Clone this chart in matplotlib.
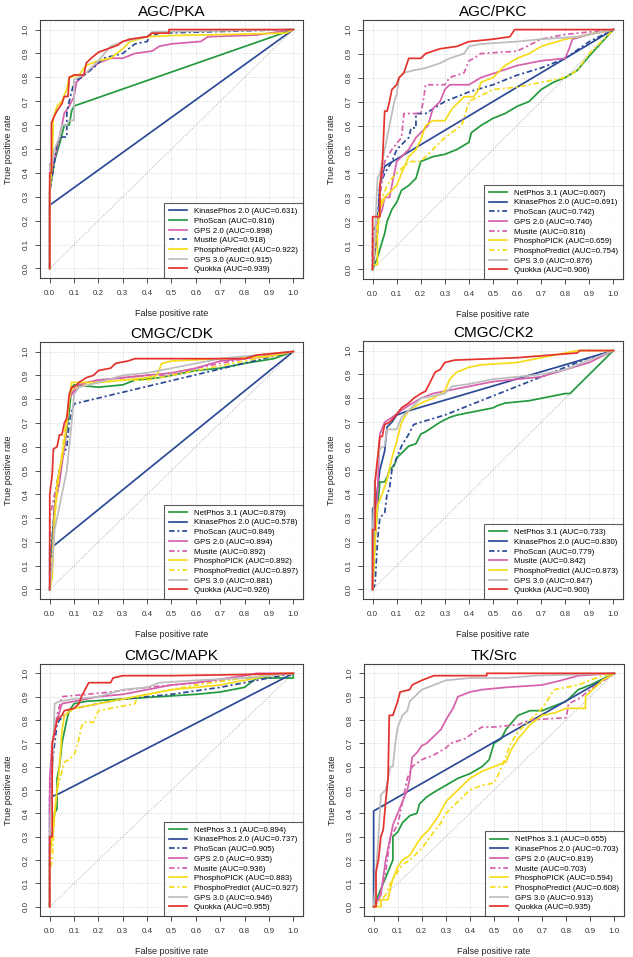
import numpy as np
import matplotlib
matplotlib.use("Agg")
import matplotlib.pyplot as plt

plt.rcParams['font.family'] = ['Liberation Sans', 'DejaVu Sans']

GREEN = "#229a3e"
BLUE = "#2b4a96"
PINK = "#d660aa"
YELLOW = "#f6dc1a"
GRAY = "#bdbdbd"
RED = "#e3322c"
DASH = (0, (3.2, 1.6, 1.2, 1.6))

# ---------------- AGC/PKA ----------------
pka_names = ["KinasePhos 2.0", "PhoScan", "GPS 2.0", "Musite", "PhosphoPredict", "GPS 3.0", "Quokka"]
pka_auc = ["0.631", "0.816", "0.898", "0.918", "0.922", "0.915", "0.939"]
pka_styles = [(BLUE, "-"), (GREEN, "-"), (PINK, "-"), (BLUE, DASH), (YELLOW, "-"), (GRAY, "-"), (RED, "-")]
pka_x = [
    [0, 0, 1],
    [0, 0, 0.02, 0.04, 0.06, 0.08, 0.09, 0.1, 1],
    [0, 0, 0.01, 0.03, 0.04, 0.06, 0.08, 0.1, 0.11, 0.15, 0.2, 0.25, 0.3, 0.35, 0.42, 0.45, 0.5, 0.62, 0.65, 0.85, 1],
    [0, 0, 0.02, 0.03, 0.05, 0.07, 0.07, 0.08, 0.1, 0.13, 0.18, 0.22, 0.3, 0.35, 0.4, 0.41, 0.45, 1],
    [0, 0, 0.01, 0.015, 0.03, 0.05, 0.07, 0.08, 0.12, 0.15, 0.2, 0.25, 0.3, 0.33, 0.4, 0.5, 0.75, 0.97, 1],
    [0, 0, 0.01, 0.02, 0.04, 0.05, 0.07, 0.08, 0.1, 0.1, 0.12, 0.15, 0.2, 0.25, 0.3, 0.4, 0.42, 1],
    [0, 0, 0.007, 0.007, 0.02, 0.03, 0.05, 0.06, 0.075, 0.08, 0.1, 0.14, 0.15, 0.17, 0.2, 0.24, 0.28, 0.3, 0.33, 0.4, 0.42, 0.49, 0.49, 1],
]
pka_y = [
    [0, 0.265, 1],
    [0, 0.33, 0.45, 0.52, 0.6, 0.6, 0.66, 0.68, 1],
    [0, 0.35, 0.42, 0.5, 0.55, 0.65, 0.68, 0.72, 0.78, 0.82, 0.86, 0.88, 0.88, 0.9, 0.91, 0.93, 0.94, 0.95, 0.97, 0.977, 1],
    [0, 0.32, 0.45, 0.52, 0.55, 0.55, 0.65, 0.7, 0.78, 0.8, 0.84, 0.88, 0.9, 0.94, 0.95, 0.97, 0.985, 1],
    [0, 0.32, 0.45, 0.63, 0.68, 0.7, 0.75, 0.8, 0.81, 0.85, 0.87, 0.88, 0.92, 0.95, 0.97, 0.975, 0.98, 0.985, 1],
    [0, 0.44, 0.44, 0.5, 0.55, 0.6, 0.6, 0.62, 0.62, 0.79, 0.8, 0.82, 0.87, 0.93, 0.95, 0.97, 0.99, 1],
    [0, 0.40, 0.40, 0.61, 0.64, 0.66, 0.69, 0.72, 0.72, 0.80, 0.81, 0.81, 0.86, 0.88, 0.905, 0.92, 0.935, 0.95, 0.96, 0.97, 0.985, 0.985, 1, 1],
]

# ---------------- AGC/PKC ----------------
pkc_names = ["NetPhos 3.1", "KinasePhos 2.0", "PhoScan", "GPS 2.0", "Musite", "PhosphoPICK", "PhosphoPredict", "GPS 3.0", "Quokka"]
pkc_auc = ["0.607", "0.691", "0.742", "0.740", "0.816", "0.659", "0.754", "0.876", "0.906"]
pkc_styles = [(GREEN, "-"), (BLUE, "-"), (BLUE, DASH), (PINK, "-"), (PINK, DASH), (YELLOW, "-"), (YELLOW, DASH), (GRAY, "-"), (RED, "-")]
pkc_x = [
    [0, 0.02, 0.05, 0.06, 0.08, 0.1, 0.12, 0.15, 0.18, 0.2, 0.25, 0.3, 0.35, 0.4, 0.41, 0.45, 0.5, 0.55, 0.6, 0.65, 0.7, 0.75, 0.8, 0.85, 0.9, 1],
    [0, 0.02, 0.03, 0.05, 1],
    [0, 0, 0.02, 0.03, 0.05, 0.08, 0.1, 0.15, 0.16, 0.18, 0.18, 0.22, 0.3, 0.4, 0.5, 0.6, 0.7, 0.8, 0.9, 1],
    [0, 0.01, 0.02, 0.04, 0.05, 0.07, 0.08, 0.1, 0.12, 0.15, 0.18, 0.2, 0.23, 0.25, 0.28, 0.3, 0.32, 0.4, 0.45, 0.6, 0.7, 0.8, 0.82, 0.83, 0.9, 1],
    [0, 0, 0.02, 0.03, 0.05, 0.08, 0.12, 0.13, 0.2, 0.21, 0.22, 0.3, 0.32, 0.38, 0.4, 0.42, 0.45, 0.6, 0.7, 0.8, 0.9, 1],
    [0, 0, 0.02, 0.02, 0.03, 0.05, 0.08, 0.1, 0.12, 0.15, 0.18, 0.2, 0.22, 0.25, 0.3, 0.33, 0.38, 0.42, 0.44, 0.45, 0.5, 0.55, 0.6, 0.65, 0.7, 0.8, 0.9, 1],
    [0, 0.01, 0.02, 0.04, 0.06, 0.08, 0.1, 0.13, 0.16, 0.2, 0.25, 0.3, 0.37, 0.4, 0.5, 0.6, 0.7, 0.8, 0.85, 0.9, 1],
    [0, 0.01, 0.02, 0.03, 0.05, 0.06, 0.07, 0.09, 0.1, 0.11, 0.13, 0.17, 0.22, 0.28, 0.32, 0.38, 0.4, 0.45, 0.6, 0.7, 0.85, 1],
    [0, 0, 0.03, 0.03, 0.04, 0.05, 0.06, 0.07, 0.08, 0.1, 0.11, 0.13, 0.14, 0.15, 0.2, 0.22, 0.28, 0.35, 0.4, 0.5, 0.57, 0.59, 1],
]
pkc_y = [
    [0, 0.05, 0.15, 0.2, 0.25, 0.28, 0.33, 0.35, 0.38, 0.45, 0.47, 0.48, 0.5, 0.53, 0.57, 0.6, 0.63, 0.65, 0.68, 0.7, 0.75, 0.78, 0.8, 0.83, 0.89, 1],
    [0, 0.15, 0.35, 0.43, 1],
    [0, 0.15, 0.2, 0.35, 0.4, 0.45, 0.5, 0.55, 0.59, 0.59, 0.65, 0.65, 0.7, 0.74, 0.77, 0.81, 0.84, 0.88, 0.95, 1],
    [0, 0.1, 0.2, 0.25, 0.3, 0.3, 0.35, 0.45, 0.47, 0.5, 0.55, 0.57, 0.6, 0.67, 0.7, 0.75, 0.77, 0.77, 0.8, 0.85, 0.87, 0.88, 0.93, 0.96, 0.98, 1],
    [0, 0.1, 0.15, 0.3, 0.45, 0.5, 0.55, 0.65, 0.65, 0.7, 0.77, 0.77, 0.8, 0.82, 0.87, 0.88, 0.9, 0.91, 0.96, 0.98, 0.99, 1],
    [0, 0.02, 0.02, 0.15, 0.25, 0.3, 0.33, 0.35, 0.4, 0.47, 0.5, 0.54, 0.6, 0.62, 0.62, 0.67, 0.72, 0.72, 0.75, 0.78, 0.8, 0.85, 0.88, 0.9, 0.93, 0.96, 0.98, 1],
    [0, 0.1, 0.2, 0.3, 0.35, 0.38, 0.4, 0.43, 0.45, 0.45, 0.5, 0.55, 0.6, 0.7, 0.75, 0.76, 0.78, 0.8, 0.83, 0.9, 1],
    [0, 0.15, 0.38, 0.4, 0.5, 0.55, 0.6, 0.7, 0.73, 0.8, 0.82, 0.83, 0.84, 0.86, 0.88, 0.9, 0.93, 0.94, 0.95, 0.96, 0.97, 1],
    [0, 0.22, 0.22, 0.35, 0.43, 0.66, 0.66, 0.7, 0.75, 0.77, 0.8, 0.82, 0.85, 0.88, 0.88, 0.9, 0.92, 0.93, 0.95, 0.96, 0.97, 1, 1],
]

# ---------------- CMGC/CDK ----------------
cdk_names = pkc_names
cdk_auc = ["0.879", "0.578", "0.849", "0.894", "0.892", "0.892", "0.897", "0.881", "0.926"]
cdk_styles = pkc_styles
cdk_x = [
    [0, 0.01, 0.02, 0.04, 0.06, 0.08, 0.09, 0.1, 0.2, 0.3, 0.35, 0.45, 0.5, 0.55, 0.6, 0.7, 0.8, 0.92, 1],
    [0, 0, 1],
    [0, 0.01, 0.03, 0.05, 0.07, 0.08, 0.09, 0.1, 1],
    [0, 0.01, 0.02, 0.04, 0.06, 0.08, 0.09, 0.1, 0.12, 0.15, 0.2, 0.3, 0.4, 0.5, 0.6, 0.7, 0.8, 0.9, 1],
    [0, 0, 0.02, 0.04, 0.06, 0.08, 0.1, 0.15, 0.2, 0.3, 0.4, 0.5, 0.6, 0.7, 0.8, 1],
    [0, 0.01, 0.02, 0.03, 0.05, 0.07, 0.08, 0.09, 0.12, 0.2, 0.3, 0.4, 0.44, 0.46, 0.5, 0.7, 0.9, 1],
    [0, 0.01, 0.02, 0.04, 0.06, 0.08, 0.09, 0.15, 0.2, 0.3, 0.4, 0.5, 0.6, 0.7, 0.8, 1],
    [0, 0.01, 0.02, 0.04, 0.06, 0.07, 0.08, 0.09, 0.1, 0.12, 0.2, 0.3, 0.4, 0.5, 0.6, 0.7, 0.8, 1],
    [0, 0, 0.01, 0.015, 0.03, 0.04, 0.05, 0.06, 0.07, 0.08, 0.09, 0.1, 0.12, 0.15, 0.18, 0.2, 0.25, 0.27, 0.32, 0.35, 0.6, 0.8, 0.85, 1],
]
cdk_y = [
    [0, 0.2, 0.35, 0.5, 0.6, 0.75, 0.85, 0.86, 0.85, 0.86, 0.88, 0.89, 0.9, 0.91, 0.92, 0.93, 0.95, 0.97, 1],
    [0, 0.17, 1],
    [0, 0.22, 0.45, 0.55, 0.6, 0.7, 0.75, 0.78, 1],
    [0, 0.1, 0.35, 0.45, 0.6, 0.8, 0.82, 0.83, 0.86, 0.87, 0.88, 0.89, 0.9, 0.91, 0.93, 0.96, 0.97, 0.98, 1],
    [0, 0.3, 0.4, 0.5, 0.6, 0.8, 0.84, 0.87, 0.88, 0.89, 0.9, 0.9, 0.93, 0.95, 0.97, 1],
    [0, 0.05, 0.3, 0.45, 0.55, 0.7, 0.8, 0.87, 0.87, 0.87, 0.88, 0.89, 0.9, 0.95, 0.96, 0.97, 0.98, 1],
    [0, 0.15, 0.3, 0.5, 0.65, 0.8, 0.84, 0.86, 0.87, 0.88, 0.88, 0.9, 0.92, 0.94, 0.96, 1],
    [0, 0.1, 0.25, 0.35, 0.45, 0.5, 0.6, 0.7, 0.82, 0.85, 0.87, 0.9, 0.91, 0.93, 0.95, 0.97, 0.98, 1],
    [0, 0.4, 0.48, 0.59, 0.6, 0.65, 0.65, 0.7, 0.72, 0.82, 0.85, 0.85, 0.87, 0.89, 0.9, 0.92, 0.93, 0.95, 0.96, 0.97, 0.97, 0.97, 0.985, 1],
]

# ---------------- CMGC/CK2 ----------------
ck2_names = ["NetPhos 3.1", "KinasePhos 2.0", "PhoScan", "Musite", "PhosphoPredict", "GPS 3.0", "Quokka"]
ck2_auc = ["0.733", "0.830", "0.779", "0.842", "0.873", "0.847", "0.900"]
ck2_styles = [(GREEN, "-"), (BLUE, "-"), (BLUE, DASH), (PINK, "-"), (YELLOW, "-"), (GRAY, "-"), (RED, "-")]
ck2_x = [
    [0, 0.01, 0.03, 0.05, 0.06, 0.07, 0.09, 0.1, 0.12, 0.15, 0.18, 0.2, 0.22, 0.25, 0.28, 0.32, 0.35, 0.4, 0.45, 0.5, 0.52, 0.55, 0.65, 0.7, 0.8, 0.82, 1],
    [0, 0, 0.01, 0.03, 0.05, 0.06, 0.08, 0.1, 0.14, 1],
    [0, 0.01, 0.02, 0.03, 0.05, 0.06, 0.07, 0.08, 0.1, 0.12, 0.15, 0.17, 0.2, 0.3, 0.4, 0.5, 0.6, 0.7, 0.8, 0.9, 1],
    [0, 0, 0.01, 0.02, 0.03, 0.05, 0.08, 0.12, 0.15, 0.2, 0.25, 0.35, 0.4, 0.5, 0.6, 0.7, 0.8, 0.9, 1],
    [0, 0.01, 0.02, 0.04, 0.06, 0.08, 0.1, 0.12, 0.15, 0.2, 0.25, 0.3, 0.32, 0.35, 0.4, 0.45, 0.6, 0.8, 0.85, 1],
    [0, 0, 0.01, 0.03, 0.05, 0.06, 0.1, 0.12, 0.15, 0.2, 0.3, 0.33, 0.4, 0.5, 0.6, 0.7, 0.8, 0.9, 1],
    [0, 0, 0.01, 0.01, 0.03, 0.04, 0.05, 0.07, 0.09, 0.12, 0.15, 0.17, 0.2, 0.22, 0.24, 0.26, 0.28, 0.3, 0.34, 0.6, 0.85, 0.86, 1],
]
ck2_y = [
    [0, 0.22, 0.45, 0.45, 0.47, 0.5, 0.52, 0.55, 0.57, 0.6, 0.61, 0.65, 0.66, 0.68, 0.7, 0.72, 0.73, 0.74, 0.75, 0.76, 0.77, 0.78, 0.79, 0.8, 0.82, 0.82, 1],
    [0, 0.34, 0.34, 0.5, 0.58, 0.68, 0.7, 0.73, 0.745, 1],
    [0, 0.02, 0.2, 0.3, 0.32, 0.4, 0.42, 0.5, 0.55, 0.6, 0.65, 0.69, 0.7, 0.73, 0.77, 0.81, 0.85, 0.89, 0.93, 0.97, 1],
    [0, 0.05, 0.2, 0.4, 0.65, 0.7, 0.72, 0.75, 0.77, 0.8, 0.82, 0.84, 0.85, 0.87, 0.88, 0.89, 0.92, 0.95, 1],
    [0, 0.2, 0.35, 0.4, 0.46, 0.55, 0.62, 0.7, 0.75, 0.78, 0.8, 0.83, 0.88, 0.91, 0.93, 0.94, 0.95, 0.99, 1, 1],
    [0, 0.25, 0.45, 0.59, 0.6, 0.67, 0.67, 0.72, 0.75, 0.8, 0.82, 0.85, 0.86, 0.88, 0.89, 0.9, 0.92, 0.96, 1],
    [0, 0.25, 0.25, 0.45, 0.64, 0.64, 0.69, 0.7, 0.72, 0.76, 0.78, 0.8, 0.82, 0.83, 0.87, 0.91, 0.92, 0.95, 0.96, 0.97, 0.99, 1, 1],
]

# ---------------- CMGC/MAPK ----------------
mapk_names = pkc_names
mapk_auc = ["0.894", "0.737", "0.905", "0.935", "0.936", "0.883", "0.927", "0.946", "0.955"]
mapk_styles = pkc_styles
mapk_x = [
    [0, 0, 0.01, 0.02, 0.03, 0.03, 0.04, 0.05, 0.06, 0.07, 0.08, 0.1, 0.15, 0.3, 0.45, 0.6, 0.7, 0.8, 0.85, 1, 1],
    [0, 0, 0.03, 1],
    [0, 0, 0.01, 0.02, 0.03, 0.04, 0.06, 0.1, 0.2, 0.3, 0.5, 0.7, 0.85, 1],
    [0, 0, 0.01, 0.02, 0.03, 0.05, 0.1, 0.2, 0.3, 0.4, 0.5, 0.6, 0.8, 0.85, 1],
    [0, 0, 0.01, 0.02, 0.03, 0.05, 0.15, 0.25, 0.4, 0.6, 0.8, 1],
    [0, 0, 0.01, 0.02, 0.03, 0.04, 0.05, 0.06, 0.1, 0.2, 0.3, 0.4, 0.5, 0.6, 0.7, 0.8, 0.9, 1],
    [0, 0, 0.01, 0.02, 0.03, 0.05, 0.06, 0.08, 0.1, 0.11, 0.12, 0.13, 0.14, 0.18, 0.2, 0.25, 0.3, 0.35, 0.36, 0.5, 0.6, 0.8, 0.95, 1],
    [0, 0, 0.01, 0.02, 0.04, 0.1, 0.2, 0.3, 0.4, 0.45, 0.6, 0.8, 1],
    [0, 0, 0.01, 0.01, 0.02, 0.03, 0.05, 0.06, 0.1, 0.12, 0.13, 0.14, 0.16, 0.25, 0.26, 0.3, 0.5, 0.8, 1],
]
mapk_y = [
    [0, 0.26, 0.3, 0.4, 0.42, 0.55, 0.6, 0.7, 0.75, 0.8, 0.84, 0.87, 0.88, 0.89, 0.9, 0.91, 0.92, 0.94, 0.98, 0.98, 1],
    [0, 0.47, 0.48, 1],
    [0, 0.45, 0.6, 0.7, 0.78, 0.8, 0.82, 0.85, 0.87, 0.89, 0.91, 0.94, 0.97, 1],
    [0, 0.55, 0.7, 0.75, 0.8, 0.87, 0.88, 0.9, 0.91, 0.93, 0.95, 0.96, 0.99, 1, 1],
    [0, 0.5, 0.65, 0.75, 0.82, 0.9, 0.91, 0.92, 0.94, 0.96, 0.98, 1],
    [0, 0.2, 0.3, 0.4, 0.5, 0.6, 0.75, 0.82, 0.85, 0.87, 0.89, 0.91, 0.93, 0.94, 0.95, 0.97, 0.99, 1],
    [0, 0.15, 0.2, 0.4, 0.5, 0.58, 0.62, 0.63, 0.65, 0.68, 0.72, 0.77, 0.79, 0.79, 0.84, 0.85, 0.86, 0.87, 0.9, 0.93, 0.95, 0.98, 1, 1],
    [0, 0.3, 0.55, 0.87, 0.88, 0.89, 0.9, 0.93, 0.94, 0.96, 0.97, 0.98, 1],
    [0, 0.3, 0.3, 0.7, 0.75, 0.8, 0.82, 0.84, 0.85, 0.87, 0.9, 0.92, 0.96, 0.96, 0.98, 0.99, 0.99, 0.995, 1],
]

# ---------------- TK/Src ----------------
src_names = ["NetPhos 3.1", "KinasePhos 2.0", "GPS 2.0", "Musite", "PhosphoPICK", "PhosphoPredict", "GPS 3.0", "Quokka"]
src_auc = ["0.655", "0.703", "0.819", "0.703", "0.594", "0.608", "0.913", "0.935"]
src_styles = [(GREEN, "-"), (BLUE, "-"), (PINK, "-"), (PINK, DASH), (YELLOW, "-"), (YELLOW, DASH), (GRAY, "-"), (RED, "-")]
src_x = [
    [0, 0.02, 0.04, 0.06, 0.08, 0.08, 0.1, 0.12, 0.15, 0.18, 0.19, 0.22, 0.25, 0.3, 0.35, 0.4, 0.45, 0.48, 0.5, 0.53, 0.55, 0.6, 0.65, 0.7, 0.75, 0.8, 0.82, 0.85, 0.9, 1],
    [0, 0, 1],
    [0, 0.03, 0.05, 0.07, 0.08, 0.1, 0.12, 0.14, 0.15, 0.16, 0.18, 0.2, 0.22, 0.25, 0.28, 0.3, 0.33, 0.35, 0.4, 0.45, 0.55, 0.7, 0.78, 0.85, 1],
    [0, 0.02, 0.05, 0.07, 0.1, 0.12, 0.13, 0.14, 0.16, 0.2, 0.25, 0.3, 0.32, 0.38, 0.42, 0.45, 0.5, 0.6, 0.65, 0.8, 0.81, 0.85, 0.9, 1],
    [0, 0.03, 0.03, 0.06, 0.07, 0.08, 0.1, 0.12, 0.15, 0.18, 0.2, 0.23, 0.27, 0.3, 0.35, 0.4, 0.45, 0.5, 0.55, 0.57, 0.6, 0.65, 0.7, 0.75, 0.8, 0.88, 0.88, 0.95, 1],
    [0, 0.02, 0.05, 0.07, 0.1, 0.12, 0.15, 0.2, 0.25, 0.28, 0.3, 0.35, 0.4, 0.45, 0.5, 0.52, 0.54, 0.57, 0.6, 0.65, 0.7, 0.75, 0.85, 0.95, 1],
    [0, 0.02, 0.03, 0.05, 0.06, 0.07, 0.08, 0.09, 0.1, 0.12, 0.14, 0.15, 0.17, 0.2, 0.25, 0.3, 0.4, 0.55, 0.67, 1],
    [0, 0.01, 0.01, 0.02, 0.03, 0.04, 0.05, 0.06, 0.065, 0.08, 0.09, 0.1, 0.11, 0.15, 0.16, 0.2, 0.25, 0.47, 0.47, 1],
]
src_y = [
    [0, 0.05, 0.1, 0.15, 0.2, 0.3, 0.32, 0.36, 0.39, 0.4, 0.44, 0.47, 0.49, 0.52, 0.55, 0.57, 0.6, 0.63, 0.7, 0.72, 0.76, 0.82, 0.84, 0.84, 0.86, 0.88, 0.9, 0.93, 0.95, 1],
    [0, 0.41, 1],
    [0, 0.05, 0.2, 0.3, 0.35, 0.4, 0.45, 0.5, 0.55, 0.64, 0.66, 0.69, 0.7, 0.73, 0.76, 0.8, 0.85, 0.9, 0.92, 0.93, 0.94, 0.95, 0.97, 0.99, 1],
    [0, 0.02, 0.15, 0.3, 0.35, 0.45, 0.5, 0.55, 0.6, 0.63, 0.65, 0.68, 0.7, 0.72, 0.75, 0.77, 0.77, 0.78, 0.8, 0.81, 0.87, 0.89, 0.93, 1],
    [0, 0, 0.03, 0.03, 0.08, 0.12, 0.17, 0.2, 0.22, 0.27, 0.3, 0.33, 0.39, 0.45, 0.5, 0.55, 0.58, 0.6, 0.62, 0.67, 0.72, 0.78, 0.82, 0.83, 0.85, 0.85, 0.9, 0.97, 1],
    [0, 0.02, 0.05, 0.1, 0.15, 0.18, 0.2, 0.25, 0.32, 0.36, 0.4, 0.45, 0.5, 0.52, 0.53, 0.57, 0.62, 0.7, 0.75, 0.8, 0.85, 0.93, 0.95, 0.99, 1],
    [0, 0.3, 0.48, 0.5, 0.55, 0.6, 0.6, 0.7, 0.77, 0.82, 0.84, 0.88, 0.9, 0.93, 0.95, 0.97, 0.98, 0.98, 0.99, 1],
    [0, 0, 0.15, 0.2, 0.3, 0.33, 0.45, 0.55, 0.82, 0.82, 0.85, 0.88, 0.92, 0.93, 0.95, 0.97, 0.99, 0.99, 1, 1],
]

PANELS = [
    ("AGC/PKA", pka_names, pka_auc, pka_styles, pka_x, pka_y),
    ("AGC/PKC", pkc_names, pkc_auc, pkc_styles, pkc_x, pkc_y),
    ("CMGC/CDK", cdk_names, cdk_auc, cdk_styles, cdk_x, cdk_y),
    ("CMGC/CK2", ck2_names, ck2_auc, ck2_styles, ck2_x, ck2_y),
    ("CMGC/MAPK", mapk_names, mapk_auc, mapk_styles, mapk_x, mapk_y),
    ("TK/Src", src_names, src_auc, src_styles, src_x, src_y),
]

W, H = 633, 957
BOXES = [
    (40, 20, 303, 278), (363, 20, 623, 279),
    (40, 342, 303, 599), (363, 341, 623, 599),
    (40, 664, 303, 916), (364, 664, 624, 916),
]

fig = plt.figure(figsize=(W / 100, H / 100), dpi=100)
ticks = np.round(np.arange(0, 1.01, 0.1), 1)
ticklabels = ["%.1f" % t for t in ticks]

for (title, names, aucs, styles, xs, ys), (l, t, r, b) in zip(PANELS, BOXES):
    ax = fig.add_axes([l / W, 1 - b / H, (r - l) / W, (b - t) / H])
    ax.set_xlim(-0.04, 1.04)
    ax.set_ylim(-0.04, 1.04)
    for v in ticks:
        ax.axvline(v, color="#cfcfcf", lw=0.6, ls=(0, (1, 1.5)), zorder=0)
        ax.axhline(v, color="#cfcfcf", lw=0.6, ls=(0, (1, 1.5)), zorder=0)
    ax.plot([0, 1], [0, 1], color="#b0b0b0", lw=0.7, ls=(0, (1, 1.5)), zorder=1)
    for name, auc, (c, ls), x, y in zip(names, aucs, styles, xs, ys):
        ax.plot(x, y, color=c, ls=ls, lw=1.25, label="%s (AUC=%s)" % (name, auc), zorder=2)
    leg = ax.legend(loc="lower right", fontsize=5.7, frameon=True, fancybox=False,
                    borderaxespad=0, handlelength=2.3, handletextpad=0.9,
                    labelspacing=0.27, borderpad=0.6)
    leg.get_frame().set_edgecolor("#333333")
    leg.get_frame().set_linewidth(0.8)
    ax.set_xticks(ticks)
    ax.set_xticklabels(ticklabels)
    ax.set_yticks(ticks)
    ax.set_yticklabels(ticklabels, rotation=90, va="center")
    ax.tick_params(direction="out", length=3.5, width=0.6, labelsize=5.8,
                   colors="#333333", pad=5)
    ax.tick_params(axis="y", pad=4)
    for s in ax.spines.values():
        s.set_color("#444444")
        s.set_linewidth(0.8)
    ax.set_xlabel("False positive rate", fontsize=6.5, labelpad=8.5, color="#222222")
    ax.set_ylabel("True positive rate", fontsize=6.5, labelpad=7, color="#222222")
    ax.set_title(title, fontsize=11, pad=3)

fig.savefig("out.png", dpi=100)
